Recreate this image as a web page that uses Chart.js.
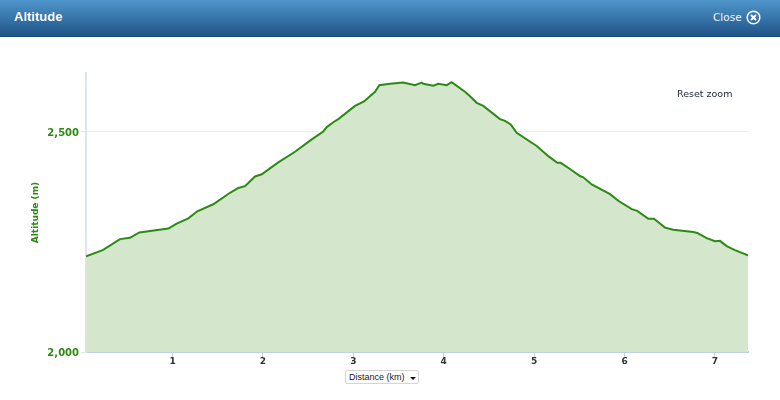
<!DOCTYPE html>
<html lang="en">
  <head>
    <meta charset="UTF-8" />
    <title>Altitude</title>
    <script src="https://cdn.jsdelivr.net/npm/chart.js"></script>
    <style>
      html, body { margin: 0; padding: 0; background: #fff; overflow: hidden; }
      body { width: 780px; height: 400px; position: relative; font-family: "Liberation Sans", sans-serif; }
      #header {
        position: absolute; left: 0; top: 0; width: 780px; height: 37px;
        background: linear-gradient(#4f96cc, #1f5488);
        border-bottom: 1px solid #1b4a78; box-sizing: border-box;
      }
      #title { position: absolute; left: 14px; top: 9px; color: #fff; font-size: 13px; font-weight: bold; text-shadow: 0 0 1px #1f5488; }
      #close { position: absolute; left: 713px; top: 11px; color: #eef4fa; font: 10.5px "DejaVu Sans", sans-serif; }
      #closeIcon { position: absolute; left: 746px; top: 10px; width: 15px; height: 15px; }
      #chartBox { position: absolute; left: 0; top: 37px; width: 780px; height: 363px; }
      #reset { position: absolute; left: 677px; top: 88px; color: #222d3a; font: 9.5px "DejaVu Sans", sans-serif; }
      #distance {
        position: absolute; left: 345px; top: 370px; width: 74px; height: 14px; box-sizing: border-box;
        border: 1px solid #d5d5d5; border-radius: 2px; background: #fff;
        color: #222; font: 9px "Liberation Sans", sans-serif; line-height: 12px; padding-left: 3px;
      }
      #distance i {
        position: absolute; right: 2px; top: 6px; width: 0; height: 0;
        border-left: 3.5px solid transparent; border-right: 3.5px solid transparent; border-top: 3px solid #111;
      }
    </style>
  </head>
  <body>
    <div id="header">
      <div id="title">Altitude</div>
      <div id="close">Close</div>
      <svg id="closeIcon" viewBox="0 0 15 15">
        <circle cx="7.5" cy="7.5" r="6.3" fill="none" stroke="#fff" stroke-width="1.5" />
        <path d="M5 5 L10 10 M10 5 L5 10" stroke="#fff" stroke-width="1.8" />
      </svg>
    </div>
    <div id="chartBox"><canvas id="altitudeChart" width="780" height="363"></canvas></div>
    <div id="reset">Reset zoom</div>
    <div id="distance">Distance (km)<i></i></div>
    <script>
      const distanceKm = [
        0.043, 0.228, 0.419, 0.53, 0.633, 0.954, 1.046, 1.175, 1.274, 1.451,
        1.636, 1.728, 1.802, 1.913, 1.987, 2.17, 2.355, 2.54, 2.668, 2.706,
        2.779, 2.834, 3.019, 3.118, 3.24, 3.288, 3.406, 3.553, 3.682, 3.757,
        3.774, 3.885, 3.94, 4.033, 4.088, 4.235, 4.291, 4.365, 4.438, 4.623,
        4.678, 4.741, 4.807, 5.029, 5.157, 5.257, 5.294, 5.397, 5.507, 5.544,
        5.637, 5.84, 5.931, 6.08, 6.141, 6.263, 6.326, 6.448, 6.54, 6.761,
        6.805, 6.909, 7.001, 7.056, 7.13, 7.222, 7.366,
      ];
      const altitudeM = [
        2217, 2231, 2256, 2259, 2271, 2280, 2291, 2303, 2319, 2335,
        2361, 2372, 2376, 2398, 2403, 2430, 2454, 2482, 2500, 2510,
        2521, 2528, 2558, 2568, 2590, 2605, 2608, 2611, 2605, 2611,
        2608, 2604, 2608, 2605, 2612, 2590, 2580, 2565, 2558, 2528,
        2524, 2516, 2497, 2467, 2444, 2429, 2429, 2415, 2399, 2396,
        2380, 2358, 2343, 2324, 2320, 2302, 2302, 2282, 2277, 2272,
        2270, 2258, 2251, 2252, 2240, 2231, 2219,
      ];
      const yTicks = [2000, 2500];
      const xTicks = [1, 2, 3, 4, 5, 6, 7];

      new Chart(document.getElementById("altitudeChart"), {
        type: "line",
        data: {
          datasets: [
            {
              data: distanceKm.map((d, i) => ({ x: d, y: altitudeM[i] })),
              borderColor: "#2b8a14",
              backgroundColor: "#d4e6cc",
              borderWidth: 2,
              fill: "start",
              tension: 0,
              pointRadius: 0,
            },
          ],
        },
        options: {
          responsive: false,
          animation: false,
          layout: { padding: { top: 36, right: 32, left: 0, bottom: 0 } },
          plugins: { legend: { display: false }, tooltip: { enabled: false } },
          scales: {
            x: {
              type: "linear",
              bounds: "data",
              min: 0.043,
              max: 7.366,
              afterFit(scale) { scale.height = 48; },
              afterBuildTicks(scale) { scale.ticks = xTicks.map((v) => ({ value: v })); },
              border: { color: "#c0d0e0", width: 2 },
              grid: { drawOnChartArea: false, tickLength: 5, tickColor: "#c0d0e0" },
              ticks: {
                maxRotation: 0,
                padding: -1,
                color: "#333333",
                font: { family: "DejaVu Sans", size: 9, weight: "bold" },
              },
            },
            y: {
              bounds: "data",
              min: 2000,
              max: 2632.6,
              afterFit(scale) { scale.width = 86; },
              afterBuildTicks(scale) { scale.ticks = yTicks.map((v) => ({ value: v })); },
              border: { color: "#dde6f0", width: 2 },
              grid: { color: "#eeeeee", tickLength: 5, tickColor: "#dde6f0" },
              ticks: {
                padding: 2,
                labelOffset: 1.5,
                color: "#2f8a12",
                font: { family: "DejaVu Sans", size: 10, weight: "bold" },
                callback: (v) => v.toLocaleString("en-US"),
              },
              title: {
                display: true,
                text: "Altitude (m)",
                color: "#2f8a12",
                padding: { top: 30, bottom: 0 },
                font: { family: "DejaVu Sans", size: 9, weight: "bold" },
              },
            },
          },
        },
      });
    </script>
  </body>
</html>
